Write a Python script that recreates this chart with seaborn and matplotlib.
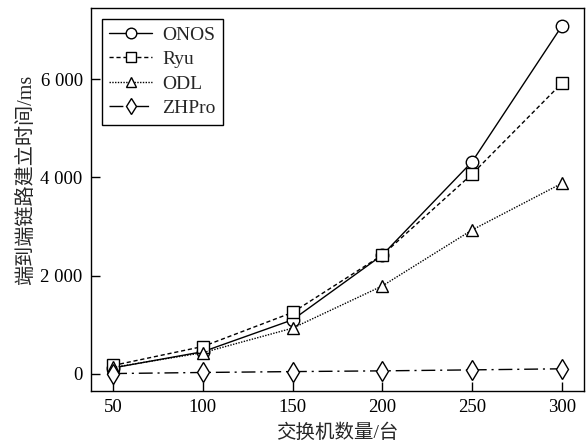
import numpy as np
import pandas as pd
import matplotlib
matplotlib.use("Agg")
import matplotlib.pyplot as plt
import seaborn as sns
from matplotlib.ticker import FuncFormatter

switches = [50, 100, 150, 200, 250, 300]
onos = [120, 450, 1100, 2420, 4320, 7085]
ryu = [170, 556, 1250, 2420, 4070, 5920]
odl = [130, 430, 930, 1790, 2930, 3880]
zhpro = [5, 27, 45, 60, 80, 102]

series = {"ONOS": onos, "Ryu": ryu, "ODL": odl, "ZHPro": zhpro}
markers = {"ONOS": "o", "Ryu": "s", "ODL": "^", "ZHPro": "d"}
styles = {"ONOS": "-", "Ryu": (0, (3, 2)), "ODL": (0, (1, 1)), "ZHPro": (0, (10, 3.5, 1.5, 3.5))}

sns.set_theme(style="ticks")
plt.rcParams['font.family'] = ['Liberation Serif', 'Noto Sans CJK SC']
plt.rcParams['font.size'] = 13
plt.rcParams['axes.linewidth'] = 1.0

fig = plt.figure(figsize=(5.86, 4.41), dpi=100)
ax = fig.add_axes([0.1553, 0.1134, 0.8413, 0.8685])

for name, vals in series.items():
    df = pd.DataFrame({"x": switches, "y": vals})
    sns.lineplot(data=df, x="x", y="y", ax=ax, color="black", linewidth=1.0,
                 marker=markers[name], markersize=10 if name == "ZHPro" else 9,
                 markerfacecolor="white", markeredgecolor="black", markeredgewidth=1.0,
                 linestyle=styles[name], label=name)

ax.set_xlim(37.7, 312.3)
ax.set_ylim(-350, 7450)
ax.set_xticks(switches)
ax.set_yticks([0, 2000, 4000, 6000])
ax.yaxis.set_major_formatter(FuncFormatter(lambda v, p: f"{int(v):,}".replace(",", " ")))
ax.tick_params(direction="in", length=6.5, width=1.0, colors="black", labelsize=13.5, pad=6)
for s in ax.spines.values():
    s.set_color("black")

ax.set_xlabel("交换机数量/台", fontsize=14, labelpad=5)
ax.set_ylabel("端到端链路建立时间/ms", fontsize=14.5)
ax.yaxis.set_label_coords(-0.112, 0.55)

leg = ax.legend(loc="upper left", fontsize=14, frameon=True, fancybox=False,
                handlelength=2.2, handletextpad=0.5, labelspacing=0.34,
                borderpad=0.4, borderaxespad=0.55, markerscale=0.85)
leg.get_frame().set_edgecolor("black")
leg.get_frame().set_linewidth(1.0)
leg.get_frame().set_alpha(1)

fig.savefig("out.png", dpi=100)
